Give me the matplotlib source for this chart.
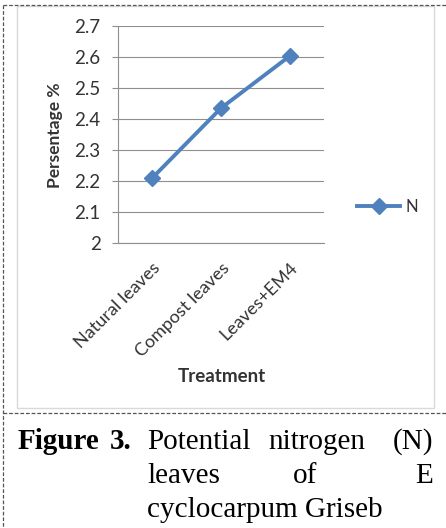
import matplotlib
matplotlib.use("Agg")
import matplotlib.pyplot as plt
from matplotlib.lines import Line2D
from matplotlib.patches import Rectangle

categories = ["Natural leaves", "Compost leaves", "Leaves+EM4"]
n_values = [2.21, 2.435, 2.603]
series_name = "N"
y_ticks = [2.0, 2.1, 2.2, 2.3, 2.4, 2.5, 2.6, 2.7]
y_tick_labels = ["2", "2.1", "2.2", "2.3", "2.4", "2.5", "2.6", "2.7"]

W, H = 446, 528
fig = plt.figure(figsize=(W / 100, H / 100), dpi=100)

def fx(px):
    return px / W

def fy(py):
    return 1 - py / H

SANS = "Lato"
SERIF = "Liberation Serif"
BLUE = "#4F81BD"
GRID = "#8f8f8f"
TXT = "#333333"

# chart area border
fig.add_artist(Rectangle((fx(17), fy(408)), fx(434) - fx(17), fy(6) - fy(408),
                         transform=fig.transFigure, fill=False,
                         edgecolor="#d9d9d9", linewidth=1.0))

ax = fig.add_axes([fx(118), fy(243), fx(324) - fx(118), fy(26) - fy(243)])
x = list(range(len(categories)))
ax.plot(x, n_values, color=BLUE, linewidth=2.8, marker="D", markersize=8,
        markerfacecolor=BLUE, markeredgecolor=BLUE, label=series_name)
ax.set_xlim(-0.5, len(categories) - 0.5)
ax.set_ylim(2.0, 2.7)
ax.set_yticks(y_ticks)
ax.set_yticklabels(y_tick_labels, fontfamily=SANS, fontsize=13.5, color=TXT)
ax.set_xticks(x)
ax.set_xticklabels(categories, rotation=45, ha="right", va="top",
                   rotation_mode="anchor", fontfamily=SANS, fontsize=13,
                   color=TXT)
ax.tick_params(axis="x", length=0, pad=12)
ax.tick_params(axis="y", length=4.5, width=0.8, color=GRID, pad=8)
ax.grid(axis="y", color=GRID, linewidth=0.8)
ax.set_axisbelow(True)
for s in ["top", "right"]:
    ax.spines[s].set_visible(False)
for s in ["left", "bottom"]:
    ax.spines[s].set_color(GRID)
    ax.spines[s].set_linewidth(0.8)

fig.text(fx(55), fy(135), "Persentage %", rotation=90, ha="center", va="center",
         fontfamily=SANS, fontweight="bold", fontsize=12.5, color=TXT)
fig.text(fx(222), fy(376), "Treatment", ha="center", va="center",
         fontfamily=SANS, fontweight="bold", fontsize=13.5, color=TXT)

leg = ax.legend(loc="center left", bbox_to_anchor=(fx(342), fy(207)),
                bbox_transform=fig.transFigure, frameon=False,
                handlelength=2.6, handletextpad=0.3,
                prop={"family": SANS, "size": 12})
for t in leg.get_texts():
    t.set_color(TXT)

# dashed frame
dash = dict(color="#555555", linewidth=0.9, linestyle=(0, (3, 1.5)),
            transform=fig.transFigure)
fig.add_artist(Line2D([fx(3), fx(446)], [fy(5), fy(5)], **dash))
fig.add_artist(Line2D([fx(3), fx(3)], [fy(5), fy(528)], **dash))
fig.add_artist(Line2D([fx(3), fx(446)], [fy(413), fy(413)], **dash))

# caption (justified by word placement)
cs = 21
b1, b2, b3 = 449, 483, 517
fig.text(fx(18), fy(b1), "Figure", ha="left", va="baseline",
         fontfamily=SERIF, fontweight="bold", fontsize=cs)
fig.text(fx(110), fy(b1), "3.", ha="left", va="baseline",
         fontfamily=SERIF, fontweight="bold", fontsize=cs)
fig.text(fx(147), fy(b1), "Potential", ha="left", va="baseline",
         fontfamily=SERIF, fontsize=cs)
fig.text(fx(268), fy(b1), "nitrogen", ha="left", va="baseline",
         fontfamily=SERIF, fontsize=cs)
fig.text(fx(433), fy(b1), "(N)", ha="right", va="baseline",
         fontfamily=SERIF, fontsize=cs)
fig.text(fx(147), fy(b2), "leaves", ha="left", va="baseline",
         fontfamily=SERIF, fontsize=cs)
fig.text(fx(293), fy(b2), "of", ha="left", va="baseline",
         fontfamily=SERIF, fontsize=cs)
fig.text(fx(433), fy(b2), "E", ha="right", va="baseline",
         fontfamily=SERIF, fontsize=cs)
fig.text(fx(147), fy(b3), "cyclocarpum Griseb", ha="left", va="baseline",
         fontfamily=SERIF, fontsize=cs)

fig.savefig("out.png", dpi=100)
